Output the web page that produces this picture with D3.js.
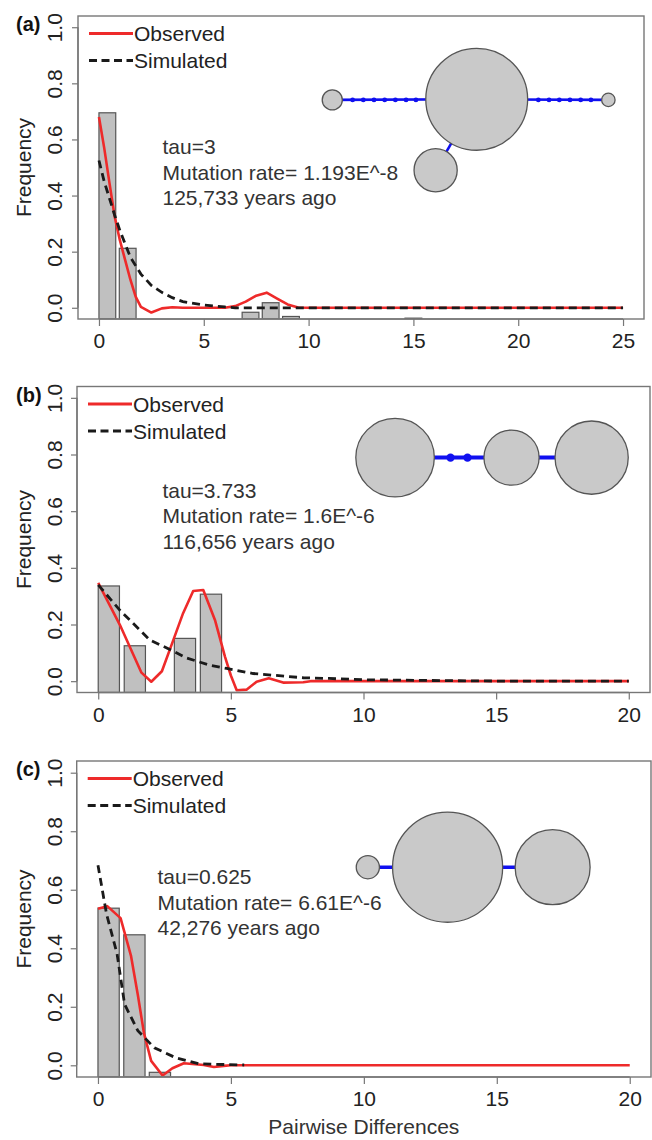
<!DOCTYPE html>
<html>
<head>
<meta charset="utf-8">
<title>Mismatch distributions</title>
<script src="https://cdn.jsdelivr.net/npm/d3@7"></script>
<style>
  html, body { margin: 0; padding: 0; background: #fff; }
  #chart { width: 652px; height: 1140px; }
  svg text { font-family: "Liberation Sans", Arial, "DejaVu Sans", sans-serif; }
</style>
</head>
<body>
<div id="chart"></div>
<script>
// -- Data -----------------------------------------------------------
var PANEL_LABELS = ["(a)", "(b)", "(c)"];
var X_MAX = [25, 20, 20];
var X_TICKS = [[0, 5, 10, 15, 20, 25], [0, 5, 10, 15, 20], [0, 5, 10, 15, 20]];
var Y_TICKS = [0, 0.2, 0.4, 0.6, 0.8, 1.0];
var LEGEND_LABELS = ["Observed", "Simulated"];
var X_TITLE = "Pairwise Differences";
var Y_TITLE = "Frequency";

// bars: left edge (pairwise differences) and height (frequency)
var BAR_WIDTH = 0.8;
var BAR_LEFT_A = [0, 0.97, 6.83, 7.79, 8.76, 14.6];
var BAR_FREQ_A = [0.695, 0.212, -0.016, 0.018, -0.031, -0.037];
var BAR_LEFT_B = [0, 0.98, 2.87, 3.85];
var BAR_FREQ_B = [0.336, 0.125, 0.151, 0.307];
var BAR_LEFT_C = [0, 0.97, 1.93];
var BAR_FREQ_C = [0.537, 0.446, -0.024];

// observed (red) curves
var OBS_X_A = [0, 0.25, 0.5, 0.75, 1.0, 1.25, 1.5, 1.75, 2.0, 2.5, 3.0, 3.5, 4, 5, 6, 6.5, 7, 7.5, 8, 8.5, 9, 9.5, 10, 15, 20, 25];
var OBS_Y_A = [0.68, 0.57, 0.445, 0.325, 0.24, 0.17, 0.1, 0.04, 0.003, -0.017, -0.002, 0.002, 0, 0, 0, 0.006, 0.022, 0.043, 0.054, 0.033, 0.012, 0.001, 0, 0, 0, 0];
var OBS_X_B = [0, 0.82, 1.63, 2.0, 2.4, 2.83, 3.2, 3.58, 3.96, 4.4, 4.78, 5.0, 5.22, 5.59, 5.97, 6.43, 6.97, 7.73, 8, 10, 15, 20];
var OBS_Y_B = [0.347, 0.198, 0.03, -0.002, 0.035, 0.145, 0.24, 0.318, 0.322, 0.216, 0.086, 0.02, -0.032, -0.03, -0.002, 0.01, -0.005, -0.004, 0, 0, 0, 0];
var OBS_X_C = [0, 0.35, 0.85, 1.24, 1.5, 1.73, 2.0, 2.43, 2.8, 3.23, 3.98, 4.36, 4.73, 5, 10, 15, 20];
var OBS_Y_C = [0.535, 0.544, 0.503, 0.375, 0.24, 0.11, 0.015, -0.035, -0.01, 0.007, 0.001, -0.006, -0.002, 0, 0, 0, 0];

// simulated (black dashed) curves
var SIM_X_A = [0, 0.25, 0.5, 0.75, 1.0, 1.5, 2.0, 2.5, 3.0, 3.5, 4.0, 5.0, 6.0, 6.5, 10, 15, 20, 25];
var SIM_Y_A = [0.525, 0.45, 0.39, 0.33, 0.275, 0.18, 0.12, 0.08, 0.055, 0.036, 0.022, 0.01, 0.003, 0, 0, 0, 0, 0];
var SIM_X_B = [0, 0.82, 1.95, 2.7, 3.33, 4.21, 4.84, 5.84, 7.73, 8.7, 10, 12, 14, 16, 20];
var SIM_Y_B = [0.34, 0.25, 0.145, 0.112, 0.082, 0.056, 0.045, 0.027, 0.012, 0.0095, 0.005, 0.003, 0.001, 0, 0];
var SIM_X_C = [0, 0.32, 0.72, 1.0, 1.5, 2.12, 2.92, 3.8, 5.5];
var SIM_Y_C = [0.684, 0.518, 0.38, 0.209, 0.118, 0.06, 0.026, 0.005, 0.001];

// annotation text
var NOTE_A = ["tau=3", "Mutation rate= 1.193E^-8", "125,733 years ago"];
var NOTE_B = ["tau=3.733", "Mutation rate= 1.6E^-6", "116,656 years ago"];
var NOTE_C = ["tau=0.625", "Mutation rate= 6.61E^-6", "42,276 years ago"];
var NOTE_AT = [[3.03, 0.547], [2.42, 0.647], [2.24, 0.619]];

// haplotype networks (data units: x, y, radius in x units)
var NET_X_A = [18.02, 11.13, 24.3, 16.06];
var NET_Y_A = [0.743, 0.741, 0.741, 0.49];
var NET_R_A = [2.43, 0.48, 0.32, 1.03];
var NET_EDGES_A = [[1, 0], [0, 2], [0, 3]];
var NET_DOTS_A = [12.1, 12.61, 13.12, 13.63, 14.14, 14.65, 15.12, 20.96, 21.47, 21.96, 22.47, 22.98, 23.47];

var NET_X_B = [11.19, 15.58, 18.6];
var NET_Y_B = [0.789, 0.789, 0.789];
var NET_R_B = [1.48, 1.04, 1.38];
var NET_EDGES_B = [[0, 1], [1, 2]];
var NET_DOTS_B = [13.28, 13.92];

var NET_X_C = [10.15, 13.15, 17.1];
var NET_Y_C = [0.677, 0.677, 0.677];
var NET_R_C = [0.436, 2.07, 1.41];
var NET_EDGES_C = [[0, 1], [1, 2]];
var NET_DOTS_C = [];

(function () {
  var W = 652, H = 1140;

  // -- Colours --------------------------------------------------------
  var C = {
    box: "#777",
    text: "#222",
    bar: "#c0c0c0",
    barEdge: "#555",
    obs: "#ee2a2a",
    sim: "#1a1a1a",
    node: "#c9c9c9",
    nodeEdge: "#555",
    link: "#1010f0"
  };

  // plot boxes (px) for the three panels
  var BOXES = [
    { left: 78, right: 644, top: 16, bottom: 319, linkW: 2.6, dotR: 2.4 },
    { left: 77, right: 650, top: 386.5, bottom: 692.5, linkW: 4, dotR: 4.2 },
    { left: 76.7, right: 651, top: 761, bottom: 1077, linkW: 3.6, dotR: 3 }
  ];

  var PANELS = [
    { bl: BAR_LEFT_A, bf: BAR_FREQ_A, ox: OBS_X_A, oy: OBS_Y_A, sx: SIM_X_A, sy: SIM_Y_A, note: NOTE_A,
      nx: NET_X_A, ny: NET_Y_A, nr: NET_R_A, ne: NET_EDGES_A, nd: NET_DOTS_A },
    { bl: BAR_LEFT_B, bf: BAR_FREQ_B, ox: OBS_X_B, oy: OBS_Y_B, sx: SIM_X_B, sy: SIM_Y_B, note: NOTE_B,
      nx: NET_X_B, ny: NET_Y_B, nr: NET_R_B, ne: NET_EDGES_B, nd: NET_DOTS_B },
    { bl: BAR_LEFT_C, bf: BAR_FREQ_C, ox: OBS_X_C, oy: OBS_Y_C, sx: SIM_X_C, sy: SIM_Y_C, note: NOTE_C,
      nx: NET_X_C, ny: NET_Y_C, nr: NET_R_C, ne: NET_EDGES_C, nd: NET_DOTS_C }
  ];

  var svg = d3.select("#chart").append("svg")
    .attr("width", W).attr("height", H)
    .style("background", "#fff");

  function zip(xs, ys) {
    return xs.map(function (x, i) { return [x, ys[i]]; });
  }

  PANELS.forEach(function (p, k) {
    var b = BOXES[k];
    var xMax = X_MAX[k];
    // R style 4% padding on both axes
    var x = d3.scaleLinear().domain([-0.04 * xMax, 1.04 * xMax]).range([b.left, b.right]);
    var y = d3.scaleLinear().domain([-0.04, 1.04]).range([b.bottom, b.top]);

    var g = svg.append("g");
    var clipId = "clip" + k;
    svg.append("clipPath").attr("id", clipId)
      .append("rect")
      .attr("x", b.left).attr("y", b.top)
      .attr("width", b.right - b.left).attr("height", b.bottom - b.top);

    var plot = g.append("g").attr("clip-path", "url(#" + clipId + ")");

    // bars rise from the floor of the plot region
    plot.append("g").selectAll("rect")
      .data(zip(p.bl, p.bf))
      .join("rect")
        .attr("x", function (d) { return x(d[0]); })
        .attr("width", function (d) { return x(d[0] + BAR_WIDTH) - x(d[0]); })
        .attr("y", function (d) { return y(d[1]); })
        .attr("height", function (d) { return Math.max(0.5, y.range()[0] - y(d[1])); })
        .attr("fill", C.bar)
        .attr("stroke", C.barEdge)
        .attr("stroke-width", 1.2);

    var line = d3.line()
      .x(function (d) { return x(d[0]); })
      .y(function (d) { return y(d[1]); });

    plot.append("path")
      .datum(zip(p.ox, p.oy))
      .attr("d", line)
      .attr("fill", "none")
      .attr("stroke", C.obs)
      .attr("stroke-width", 2.6)
      .attr("stroke-linejoin", "round");

    plot.append("path")
      .datum(zip(p.sx, p.sy))
      .attr("d", line)
      .attr("fill", "none")
      .attr("stroke", C.sim)
      .attr("stroke-width", 2.8)
      .attr("stroke-dasharray", "8,5");

    // -- Haplotype network ------------------------------------------
    var net = g.append("g");
    net.selectAll("line.edge")
      .data(p.ne)
      .join("line")
        .attr("class", "edge")
        .attr("x1", function (e) { return x(p.nx[e[0]]); })
        .attr("y1", function (e) { return y(p.ny[e[0]]); })
        .attr("x2", function (e) { return x(p.nx[e[1]]); })
        .attr("y2", function (e) { return y(p.ny[e[1]]); })
        .attr("stroke", C.link)
        .attr("stroke-width", b.linkW);

    net.selectAll("circle.dot")
      .data(p.nd)
      .join("circle")
        .attr("class", "dot")
        .attr("cx", function (d) { return x(d); })
        .attr("cy", y(p.ny[1]))
        .attr("r", b.dotR)
        .attr("fill", C.link);

    net.selectAll("circle.node")
      .data(p.nx.map(function (v, i) { return i; }))
      .join("circle")
        .attr("class", "node")
        .attr("cx", function (i) { return x(p.nx[i]); })
        .attr("cy", function (i) { return y(p.ny[i]); })
        .attr("r", function (i) { return x(p.nr[i]) - x(0); })
        .attr("fill", C.node)
        .attr("stroke", C.nodeEdge)
        .attr("stroke-width", 1.3);

    // -- Box + axes ---------------------------------------------------
    g.append("rect")
      .attr("x", b.left).attr("y", b.top)
      .attr("width", b.right - b.left).attr("height", b.bottom - b.top)
      .attr("fill", "none")
      .attr("stroke", C.box)
      .attr("stroke-width", 1.4);

    var xAxis = g.append("g")
      .attr("transform", "translate(0," + b.bottom + ")")
      .call(d3.axisBottom(x).tickValues(X_TICKS[k]).tickSize(7).tickPadding(8).tickFormat(d3.format("d")));
    xAxis.select(".domain").attr("stroke", C.box).attr("stroke-width", 1.4)
      .attr("d", "M" + x(0) + ",0H" + x(xMax));
    xAxis.selectAll(".tick line").attr("stroke", C.box).attr("stroke-width", 1.2);
    xAxis.selectAll(".tick text")
      .attr("font-size", "21px").attr("fill", C.text)
      .attr("dy", null).attr("y", 29);

    var yAxis = g.append("g")
      .attr("transform", "translate(" + b.left + ",0)")
      .call(d3.axisLeft(y).tickValues(Y_TICKS).tickSize(6).tickFormat(d3.format(".1f")));
    yAxis.select(".domain").attr("stroke", C.box).attr("stroke-width", 1.4)
      .attr("d", "M0," + y(0) + "V" + y(1));
    yAxis.selectAll(".tick line").attr("stroke", C.box).attr("stroke-width", 1.2);
    yAxis.selectAll(".tick text")
      .attr("font-size", "21px").attr("fill", C.text)
      .attr("x", null).attr("dy", null)
      .attr("text-anchor", "middle")
      .attr("transform", "translate(" + (62 - b.left) + ",0) rotate(-90)");

    g.append("text")
      .attr("transform", "translate(31," + ((b.top + b.bottom) / 2) + ") rotate(-90)")
      .attr("text-anchor", "middle")
      .attr("font-size", "21px")
      .attr("fill", C.text)
      .text(Y_TITLE);

    g.append("text")
      .attr("x", 16).attr("y", b.top + 15)
      .attr("font-size", "20px")
      .attr("font-weight", "bold")
      .attr("fill", "#111")
      .text(PANEL_LABELS[k]);

    // -- Legend -------------------------------------------------------
    LEGEND_LABELS.forEach(function (lab, i) {
      var ly = b.top + 17.5 + i * 27;
      g.append("line")
        .attr("x1", b.left + 11).attr("x2", b.left + 55)
        .attr("y1", ly).attr("y2", ly)
        .attr("stroke", i === 0 ? C.obs : C.sim)
        .attr("stroke-width", i === 0 ? 3 : 3.2)
        .attr("stroke-dasharray", i === 0 ? null : "8,4.5");
      g.append("text")
        .attr("x", b.left + 56).attr("y", ly + 7.5)
        .attr("font-size", "21px")
        .attr("fill", C.text)
        .text(lab);
    });

    // -- Annotation ---------------------------------------------------
    var at = NOTE_AT[k];
    g.append("g").selectAll("text")
      .data(p.note)
      .join("text")
        .attr("x", x(at[0]))
        .attr("y", function (d, i) { return y(at[1]) + i * 25.5; })
        .attr("font-size", "21px")
        .attr("fill", "#333")
        .text(function (d) { return d; });

    if (k === 2) {
      g.append("text")
        .attr("x", (b.left + b.right) / 2).attr("y", 1134)
        .attr("text-anchor", "middle")
        .attr("font-size", "21px")
        .attr("fill", "#333")
        .text(X_TITLE);
    }
  });
})();
</script>
</body>
</html>
